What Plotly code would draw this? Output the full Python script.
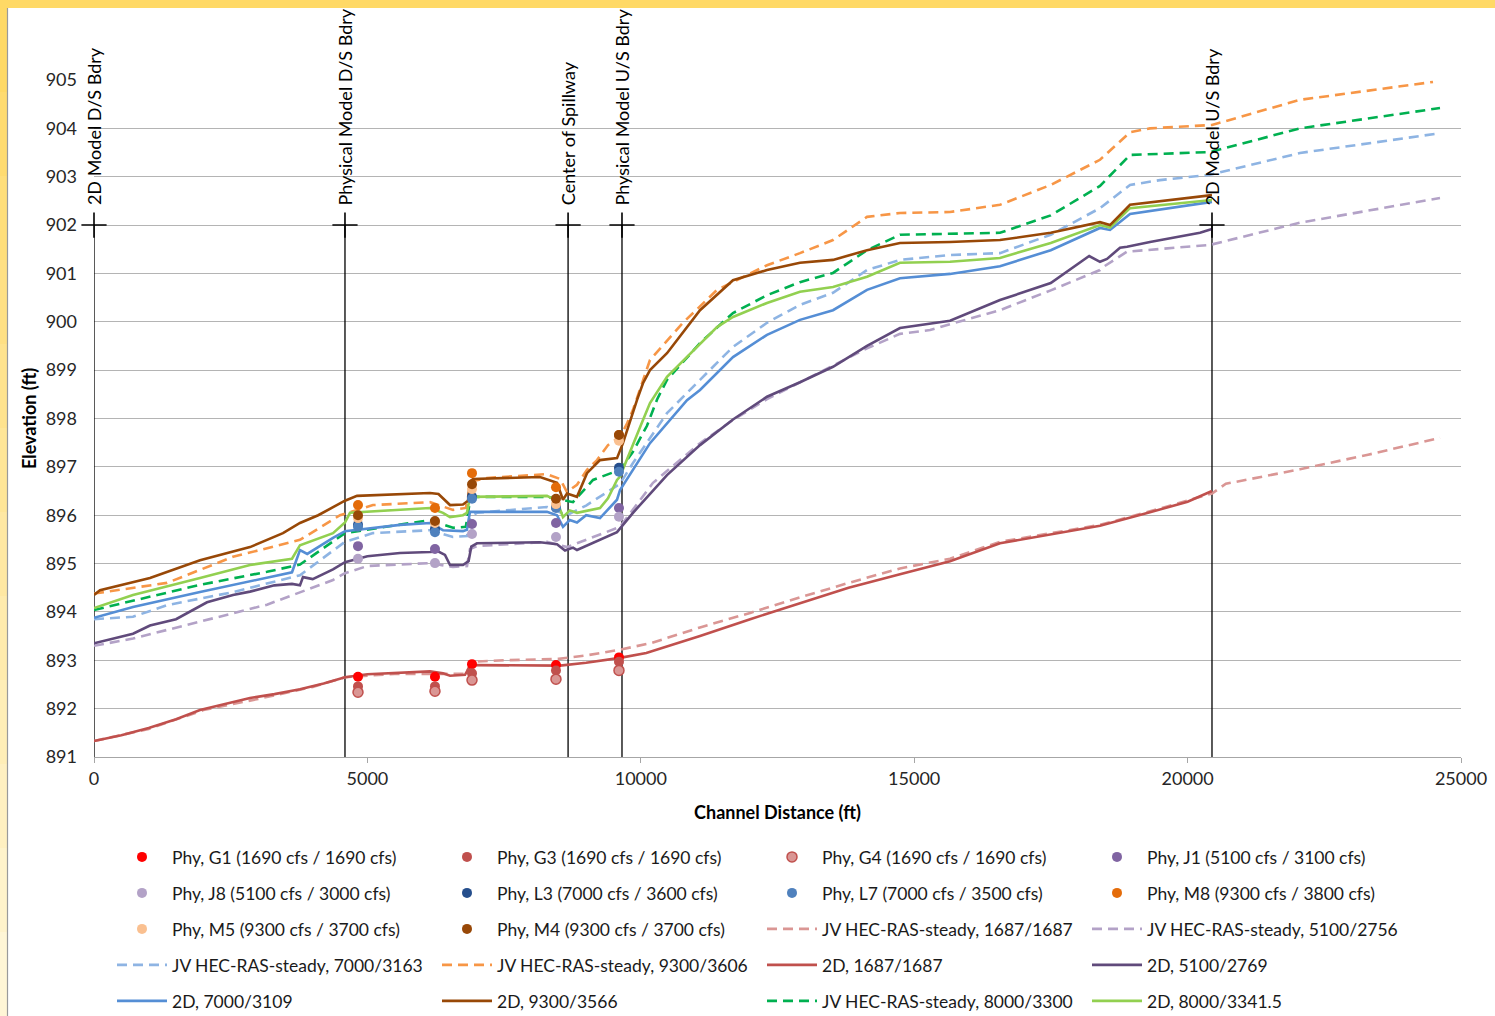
import plotly.graph_objects as go

# ---------------- data ----------------
# physical model observation stations (channel distance, ft)
phys_x = [4828, 6236, 6913, 8449, 9601]
phy_G1 = [892.66, 892.66, 892.92, 892.90, 893.06]
phy_G3 = [892.46, 892.46, 892.73, 892.79, 892.97]
phy_G4 = [892.34, 892.36, 892.59, 892.61, 892.79]
phy_J1 = [895.36, 895.30, 895.82, 895.84, 896.15]
phy_J8 = [895.10, 895.01, 895.61, 895.55, 895.97]
phy_L3 = [895.80, 895.72, 896.38, 896.17, 896.98]
phy_L7 = [895.76, 895.65, 896.34, 896.15, 896.90]
phy_M8 = [896.21, 896.15, 896.87, 896.58, 897.66]
phy_M5 = [895.94, 895.84, 896.54, 896.23, 897.54]
phy_M4 = [896.00, 895.88, 896.64, 896.34, 897.66]

# JV HEC-RAS steady profiles
jv1687_x = [0, 1000, 2000, 3000, 4000, 4590, 5500, 6511, 6800, 6900, 7500, 8500, 9000, 9620,
            10200, 11083, 12000, 12911, 13800, 14740, 15655, 16569, 17497, 18398, 19312, 20446,
            20700, 22055, 23300, 24616]
jv1687_y = [891.33, 891.58, 891.97, 892.20, 892.45, 892.65, 892.72, 892.72, 892.72, 892.97, 893.00,
            893.03, 893.10, 893.22, 893.36, 893.68, 893.98, 894.30, 894.60, 894.90, 895.10, 895.45,
            895.62, 895.80, 896.08, 896.45, 896.65, 896.95, 897.25, 897.60]

jv5100_x = [0, 713, 1939, 3164, 4371, 4590, 5000, 6145, 6565, 6822, 6876, 7004, 8284, 8650, 9620,
            10223, 11083, 11700, 12308, 12911, 13515, 14137, 14740, 15289, 15655, 16569, 17497,
            18398, 18453, 18892, 20410, 21689, 22055, 24616]
jv5100_y = [893.30, 893.45, 893.80, 894.15, 894.66, 894.80, 894.95, 895.01, 894.93, 894.95, 895.30,
            895.36, 895.45, 895.34, 895.76, 896.67, 897.49, 897.98, 898.40, 898.75, 899.10, 899.45,
            899.75, 899.83, 899.95, 900.24, 900.65, 901.07, 901.13, 901.45, 901.59, 901.96, 902.05,
            902.56]

jv7000_x = [0, 713, 1335, 2542, 3767, 4590, 5102, 6145, 6565, 6822, 6876, 7004, 8284, 8650, 9000,
            9620, 9857, 10479, 11083, 11686, 12308, 12911, 13515, 14137, 14740, 15655, 16569,
            17497, 18398, 18947, 19495, 20410, 22055, 24616]
jv7000_y = [893.85, 893.90, 894.14, 894.41, 894.76, 895.45, 895.63, 895.69, 895.55, 895.57, 895.95,
            896.05, 896.17, 896.00, 896.20, 896.65, 897.08, 898.11, 898.80, 899.48, 899.98, 900.35,
            900.60, 901.07, 901.28, 901.38, 901.42, 901.80, 902.35, 902.83, 902.93, 903.04, 903.49,
            903.90]

jv9300_x = [0, 1335, 2542, 3767, 4499, 5102, 6145, 6565, 6800, 6900, 7187, 8284, 8522, 8650, 8833,
            9016, 9200, 9400, 9620, 9750, 9857, 10168, 10772, 11394, 12308, 12911, 13515, 14137,
            14740, 15655, 16569, 17497, 18398, 18947, 19312, 20446, 22055, 24488]
jv9300_y = [894.38, 894.60, 895.14, 895.49, 896.00, 896.21, 896.27, 896.11, 896.15, 896.70, 896.77,
            896.85, 896.75, 896.48, 896.63, 896.94, 897.14, 897.45, 897.62, 897.90, 898.18, 899.21,
            899.98, 900.66, 901.17, 901.42, 901.69, 902.17, 902.25, 902.27, 902.42, 902.83, 903.35,
            903.92, 904.00, 904.07, 904.59, 904.96]

jv8000_x = [0, 1024, 1939, 3164, 3767, 4590, 5596, 6145, 6565, 6800, 6876, 7004, 8284, 8760, 9126,
            9620, 9850, 10113, 10300, 10479, 11083, 11686, 12308, 12911, 13515, 13826, 14137,
            14740, 15655, 16569, 17497, 18398, 18947, 20410, 22055, 24616]
jv8000_y = [894.04, 894.31, 894.56, 894.83, 894.98, 895.63, 895.80, 895.90, 895.74, 895.76, 896.30,
            896.38, 896.38, 896.27, 896.73, 896.94, 897.30, 897.85, 898.40, 898.80, 899.56, 900.18,
            900.55, 900.82, 901.01, 901.24, 901.48, 901.80, 901.82, 901.84, 902.20, 902.81, 903.45,
            903.51, 904.00, 904.42]

# 2D model profiles
d1687_x = [0, 500, 1000, 1500, 1939, 2400, 2853, 3300, 3767, 4200, 4590, 5000, 5596, 6145, 6382,
           6511, 6785, 6876, 6931, 7500, 8156, 8522, 9000, 9620, 10100, 11083, 12000, 12911,
           13800, 14740, 15655, 16569, 17497, 18398, 19312, 20000, 20446]
d1687_y = [891.33, 891.45, 891.60, 891.78, 891.97, 892.10, 892.22, 892.30, 892.40, 892.52, 892.65,
           892.71, 892.74, 892.77, 892.73, 892.68, 892.70, 892.88, 892.90, 892.90, 892.90, 892.89,
           892.95, 893.05, 893.15, 893.50, 893.85, 894.18, 894.50, 894.78, 895.05, 895.42, 895.60,
           895.78, 896.06, 896.28, 896.50]

d5100_x = [0, 713, 1024, 1500, 2067, 2542, 2853, 3300, 3621, 3767, 3822, 4000, 4371, 4590, 5000,
           5596, 6145, 6300, 6419, 6511, 6748, 6850, 6900, 7004, 8156, 8467, 8614, 8760, 8833,
           9254, 9565, 9857, 10479, 11083, 11686, 12308, 12911, 13515, 14137, 14740, 15655,
           16569, 17497, 18200, 18398, 18526, 18764, 18892, 19312, 20227, 20446]
d5100_y = [893.35, 893.55, 893.72, 893.85, 894.20, 894.35, 894.42, 894.55, 894.58, 894.55, 894.72,
           894.68, 894.88, 895.03, 895.15, 895.22, 895.24, 895.25, 895.18, 894.97, 894.97, 895.05,
           895.35, 895.42, 895.44, 895.40, 895.27, 895.33, 895.28, 895.49, 895.65, 896.05, 896.83,
           897.45, 897.98, 898.45, 898.75, 899.07, 899.50, 899.87, 900.02, 900.45, 900.80, 901.36,
           901.24, 901.30, 901.53, 901.55, 901.65, 901.84, 901.92]

d7000_x = [0, 713, 1939, 3164, 3621, 3767, 3900, 4371, 4590, 5596, 6145, 6382, 6748, 6820, 6876,
           8284, 8467, 8577, 8700, 8833, 9000, 9254, 9565, 9620, 10168, 10845, 11083, 11686,
           12308, 12911, 13515, 14137, 14740, 15655, 16569, 17497, 18398, 18581, 18947, 20446]
d7000_y = [893.88, 894.10, 894.41, 894.70, 894.82, 895.28, 895.20, 895.53, 895.67, 895.80, 895.84,
           895.69, 895.67, 895.70, 896.07, 896.07, 896.00, 895.76, 895.90, 895.85, 896.00, 895.94,
           896.32, 896.52, 897.49, 898.38, 898.59, 899.27, 899.73, 900.04, 900.24, 900.66, 900.90,
           900.99, 901.15, 901.48, 901.94, 901.90, 902.23, 902.48]

d9300_x = [0, 110, 1024, 1939, 2853, 3456, 3767, 4100, 4590, 4810, 6145, 6300, 6511, 6748, 6840,
           6876, 6931, 8156, 8467, 8577, 8650, 8833, 9016, 9254, 9565, 9674, 9930, 10040, 10168,
           10479, 11083, 11686, 12308, 12911, 13515, 14137, 14740, 15655, 16569, 17497, 18398,
           18581, 18947, 20446]
d9300_y = [894.35, 894.45, 894.70, 895.07, 895.34, 895.63, 895.84, 896.00, 896.30, 896.40, 896.46,
           896.44, 896.21, 896.22, 896.30, 896.69, 896.75, 896.79, 896.67, 896.32, 896.45, 896.38,
           896.87, 897.14, 897.18, 897.49, 898.38, 898.73, 899.00, 899.35, 900.24, 900.86, 901.07,
           901.22, 901.28, 901.48, 901.63, 901.65, 901.69, 901.84, 902.06, 902.00, 902.42, 902.62]

d8000_x = [0, 713, 1939, 2853, 3621, 3767, 4371, 4590, 4682, 6145, 6382, 6511, 6748, 6820, 6876,
           8284, 8467, 8577, 8700, 8833, 9254, 9400, 9565, 9620, 10040, 10168, 10479, 10845,
           11394, 11686, 12308, 12911, 13515, 14137, 14740, 15655, 16569, 17497, 18398, 18581,
           18947, 20446]
d8000_y = [894.08, 894.35, 894.70, 894.97, 895.10, 895.38, 895.63, 895.85, 896.05, 896.15, 896.05,
           895.96, 896.00, 896.05, 896.38, 896.40, 896.30, 895.96, 896.10, 896.05, 896.15, 896.35,
           896.73, 896.80, 897.97, 898.32, 898.86, 899.27, 899.89, 900.10, 900.39, 900.62, 900.72,
           900.93, 901.22, 901.24, 901.32, 901.63, 902.00, 901.95, 902.35, 902.52]

# reference boundaries
bdry_x = [0, 4590, 8670, 9656, 20446]
bdry_labels = ["2D Model D/S Bdry", "Physical Model D/S Bdry", "Center of Spillway",
               "Physical Model U/S Bdry", "2D Model U/S Bdry"]
bdry_top = 902
y_min, y_max = 891, 905
x_min, x_max = 0, 25000

# ---------------- figure ----------------
FONT = "Lato"
W, H = 1495, 1016
ML, MR, MT, MB = 94, 34, 80, 259

fig = go.Figure()

DASH = "10px,6px"
point_series = [
    ("Phy, G1 (1690 cfs / 1690 cfs)", phy_G1, "#FF0000", None, 1, 1),
    ("Phy, G3 (1690 cfs / 1690 cfs)", phy_G3, "#C0504D", None, 1, 2),
    ("Phy, G4 (1690 cfs / 1690 cfs)", phy_G4, "#DA9694", "#C0504D", 1, 3),
    ("Phy, J1 (5100 cfs / 3100 cfs)", phy_J1, "#8064A2", None, 1, 4),
    ("Phy, J8 (5100 cfs / 3000 cfs)", phy_J8, "#B3A2C7", None, 2, 1),
    ("Phy, L3 (7000 cfs / 3600 cfs)", phy_L3, "#254E8C", None, 2, 2),
    ("Phy, L7 (7000 cfs / 3500 cfs)", phy_L7, "#4F81BD", None, 2, 3),
    ("Phy, M8 (9300 cfs / 3800 cfs)", phy_M8, "#E46C0A", None, 2, 4),
    ("Phy, M5 (9300 cfs / 3700 cfs)", phy_M5, "#FAC090", None, 3, 1),
    ("Phy, M4 (9300 cfs / 3700 cfs)", phy_M4, "#984807", None, 3, 2),
]
line_series = [
    ("JV HEC-RAS-steady, 1687/1687", jv1687_x, jv1687_y, "#DA9694", DASH, 3, 3),
    ("JV HEC-RAS-steady, 5100/2756", jv5100_x, jv5100_y, "#B3A2C7", DASH, 3, 4),
    ("JV HEC-RAS-steady, 7000/3163", jv7000_x, jv7000_y, "#8EB4E3", DASH, 4, 1),
    ("JV HEC-RAS-steady, 9300/3606", jv9300_x, jv9300_y, "#F79646", DASH, 4, 2),
    ("JV HEC-RAS-steady, 8000/3300", jv8000_x, jv8000_y, "#00B050", DASH, 5, 3),
    ("2D, 1687/1687", d1687_x, d1687_y, "#C0504D", "solid", 4, 3),
    ("2D, 5100/2769", d5100_x, d5100_y, "#604A7B", "solid", 4, 4),
    ("2D, 7000/3109", d7000_x, d7000_y, "#558ED5", "solid", 5, 1),
    ("2D, 8000/3341.5", d8000_x, d8000_y, "#92D050", "solid", 5, 4),
    ("2D, 9300/3566", d9300_x, d9300_y, "#984807", "solid", 5, 2),
]

def legend_key(row):
    return "legend" if row == 1 else f"legend{row}"

for name, xs, ys, color, dash, row, col in line_series:
    fig.add_trace(go.Scatter(
        x=xs, y=ys, mode="lines", name=name,
        line=dict(color=color, width=2.6, dash=dash),
        legend=legend_key(row), legendrank=col, cliponaxis=False))

for name, ys, color, outline, row, col in point_series:
    fig.add_trace(go.Scatter(
        x=phys_x, y=ys, mode="markers", name=name,
        marker=dict(color=color, size=10,
                    line=dict(color=outline or color, width=1.5 if outline else 0)),
        legend=legend_key(row), legendrank=col))

# boundary markers
for bx, lab in zip(bdry_x, bdry_labels):
    fig.add_shape(type="line", x0=bx, x1=bx, y0=y_min, y1=bdry_top,
                  xref="x", yref="y", line=dict(color="#000000", width=1.3), layer="between")
    fig.add_annotation(x=bx, y=bdry_top, xref="x", yref="y", text=lab, textangle=-90,
                       showarrow=False, xanchor="center", yanchor="bottom", yshift=18,
                       font=dict(family=FONT, size=18, color="#000000"))
fig.add_trace(go.Scatter(
    x=bdry_x, y=[bdry_top] * len(bdry_x), mode="markers", showlegend=False,
    marker=dict(symbol="cross-thin", size=18, line=dict(color="#000000", width=1.6)),
    cliponaxis=False, hoverinfo="skip"))

# decorative slide border (yellow frame)
def px_x(p):
    return (p - ML) / (W - ML - MR)

def px_y(p):
    return (H - MB - p) / (H - MT - MB)

fig.add_shape(type="rect", xref="paper", yref="paper", x0=px_x(0), x1=px_x(W), y0=px_y(8), y1=px_y(0),
              fillcolor="#FFD966", line=dict(width=0), layer="above")
n_steps = 12
for i in range(n_steps):
    t = i / (n_steps - 1)
    r, g, b = 255, int(217 + (246 - 217) * t), int(102 + (214 - 102) * t)
    fig.add_shape(type="rect", xref="paper", yref="paper", x0=px_x(0), x1=px_x(7),
                  y0=px_y(8 + (i + 1) * (H - 8) / n_steps), y1=px_y(8 + i * (H - 8) / n_steps),
                  fillcolor=f"rgb({r},{g},{b})", line=dict(width=0), layer="above")
fig.add_shape(type="line", xref="paper", yref="paper", x0=px_x(7.5), x1=px_x(7.5),
              y0=px_y(H), y1=px_y(8), line=dict(color="#9A9A9A", width=1.2), layer="above")

# legends: five horizontal rows
row_px = [857, 893, 929, 965, 1001]
layout_legends = {}
for i, ypx in enumerate(row_px):
    layout_legends[legend_key(i + 1)] = dict(
        orientation="h", xref="container", yref="container",
        x=112 / W, xanchor="left", y=1 - ypx / H, yanchor="middle",
        entrywidth=260, entrywidthmode="pixels", itemwidth=50,
        font=dict(family=FONT, size=17.5, color="#1A1A1A"),
        bgcolor="rgba(0,0,0,0)", borderwidth=0, traceorder="normal",
        itemclick=False, itemdoubleclick=False)

fig.update_layout(
    width=W, height=H,
    margin=dict(l=ML, r=MR, t=MT, b=MB, autoexpand=False),
    paper_bgcolor="#FFFFFF", plot_bgcolor="#FFFFFF",
    font=dict(family=FONT, color="#262626"),
    showlegend=True,
    xaxis=dict(range=[x_min, x_max], dtick=5000, tick0=0, tickformat="d",
               showgrid=False, zeroline=False,
               showline=True, linecolor="#A6A6A6", linewidth=1.2,
               ticks="outside", ticklen=5, tickcolor="#A6A6A6",
               tickfont=dict(family=FONT, size=18, color="#262626"),
               title=dict(text="<b>Channel Distance (ft)</b>", standoff=18,
                          font=dict(family=FONT, size=18, color="#000000"))),
    yaxis=dict(range=[y_min, y_max], dtick=1, tick0=891, showgrid=True, gridcolor="#B4B4B4",
               gridwidth=1.2, zeroline=False, showline=False, ticks="", ticklabelstandoff=16,
               tickfont=dict(family=FONT, size=18, color="#262626"),
               title=dict(text="<b>Elevation (ft)</b>", standoff=4,
                          font=dict(family=FONT, size=18, color="#000000"))),
    **layout_legends,
)

fig.write_html("out.html", config={"displayModeBar": False},
               post_script="document.body.style.margin='0px';document.body.style.overflow='hidden';")
